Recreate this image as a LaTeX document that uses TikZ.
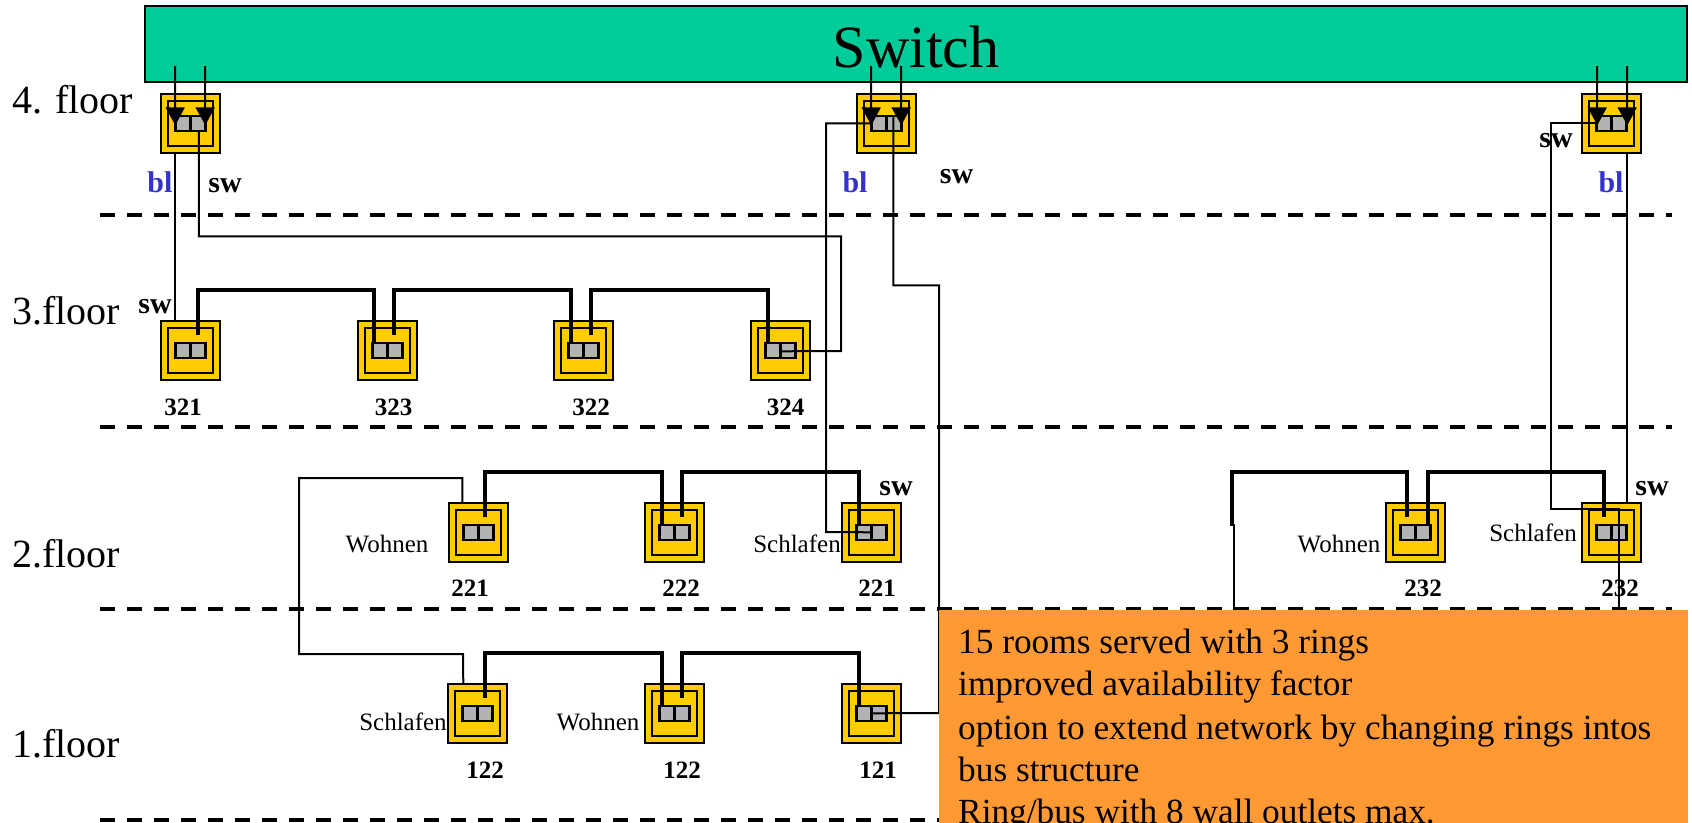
\documentclass[tikz,border=0pt]{standalone}
\usepackage{fontspec}
\setmainfont{Liberation Serif}
\usetikzlibrary{arrows.meta}
\definecolor{swgreen}{HTML}{00CC99}
\definecolor{outletyellow}{HTML}{FFCC00}
\definecolor{portgray}{HTML}{B2B2B2}
\definecolor{noteorange}{HTML}{FF9933}
\definecolor{cableblue}{HTML}{3333CC}
\tikzset{
  outerbox/.style={draw=black,line width=2.2pt,fill=outletyellow,minimum size=59.4pt,inner sep=0pt,outer sep=0pt},
  innerbox/.style={draw=black,line width=2.2pt,fill=outletyellow,minimum size=45pt,inner sep=0pt,outer sep=0pt},
  portcell/.style={draw=black,line width=2.2pt,fill=portgray,minimum width=15pt,minimum height=14.5pt,inner sep=0pt,outer sep=0pt},
  thinwire/.style={draw=black,line width=2pt,miter limit=10},
  ring/.style={draw=black,line width=4pt,miter limit=10},
  floorline/.style={draw=black,line width=4pt,dash pattern=on 15pt off 12pt},
  uplink/.style={draw=black,line width=2pt,-{Triangle[length=18pt,width=19pt]}},
  flr/.style={font=\fontsize{40}{40}\selectfont,anchor=base west,inner sep=0pt},
  tag/.style={font=\fontsize{30}{30}\selectfont\bfseries,anchor=base,inner sep=0pt},
  bluetag/.style={tag,text=cableblue},
  num/.style={font=\fontsize{25}{25}\selectfont\bfseries,anchor=base,inner sep=0pt},
  room/.style={font=\fontsize{25}{25}\selectfont,anchor=base,inner sep=0pt},
  note/.style={font=\fontsize{35.3}{35.3}\selectfont,anchor=base west,inner sep=0pt},
}
\newcommand{\outlet}[3]{%
  \node[outerbox] (#1) at (#2+30.5,#3+30.5) {};
  \node[innerbox] (#1i) at (#1) {};
  \node[portcell] (#1l) at ([shift={(-7.5,0)}]#1) {};
  \node[portcell] (#1r) at ([shift={(7.5,0)}]#1) {};
}
\begin{document}
\begin{tikzpicture}[x=1pt,y=-1pt]
\useasboundingbox (0,0) rectangle (1692,822);
\begin{scope}
\clip (0,0) rectangle (1692,822);
% switch
\node[draw=black,line width=2.2pt,fill=swgreen,minimum width=1542pt,minimum height=76pt,inner sep=0pt,outer sep=0pt,anchor=north west] (switch) at (145,6) {};
\node[font=\fontsize{60}{60}\selectfont,anchor=base,inner sep=0pt] (switchlabel) at (916,67) {Switch};
% floors
\foreach \n/\y in {fa/215,fb/427,fc/609,fd/820}{
  \coordinate (\n w) at (100,\y);
  \coordinate (\n e) at (1672,\y);
  \draw[floorline] (\n w) -- (\n e);
}
\node[flr] (f4) at (12,113) {4. floor};
\node[flr] (f3) at (12,324) {3.floor};
\node[flr] (f2) at (12,567) {2.floor};
\node[flr] (f1) at (12,757) {1.floor};
% outlets
\outlet{a1}{160}{93}
\outlet{a2}{856}{93}
\outlet{a3}{1581}{93}
\outlet{c1}{160}{320}
\outlet{c2}{357}{320}
\outlet{c3}{553}{320}
\outlet{c4}{750}{320}
\outlet{d1}{448}{502}
\outlet{d2}{644}{502}
\outlet{d3}{841}{502}
\outlet{d4}{1385}{502}
\outlet{d5}{1581}{502}
\outlet{e1}{447}{683}
\outlet{e2}{644}{683}
\outlet{e3}{841}{683}
% rings
\draw[ring] ([shift={(37.5,14.5)}]c1.north west) -- ++(0,-45) -| ([shift={(16.5,22.5)}]c2.north west);
\draw[ring] ([shift={(36.5,14.5)}]c2.north west) -- ++(0,-45) -| ([shift={(17.5,22.5)}]c3.north west);
\draw[ring] ([shift={(37.5,14.5)}]c3.north west) -- ++(0,-45) -| ([shift={(17.5,22.5)}]c4.north west);
\draw[ring] ([shift={(36.5,14.5)}]d1.north west) -- ++(0,-45) -| ([shift={(17,22.5)}]d2.north west);
\draw[ring] ([shift={(37.5,14.5)}]d2.north west) -- ++(0,-45) -| ([shift={(17.5,22.5)}]d3.north west);
\draw[ring] ([shift={(21.5,14.5)}]d4.north west) -- ++(0,-45) -- ++(-175,0) coordinate (ringend) -- ++(0,54) coordinate (ringfoot);
\draw[ring] ([shift={(42.5,22.5)}]d4.north west) -- ++(0,-53) -| ([shift={(22.5,14.5)}]d5.north west);
\draw[ring] ([shift={(37.5,14.5)}]e1.north west) -- ++(0,-45) -| ([shift={(17,22.5)}]e2.north west);
\draw[ring] ([shift={(37.5,14.5)}]e2.north west) -- ++(0,-45) -| ([shift={(17.5,22.5)}]e3.north west);
% thin wires
\draw[thinwire] ([shift={(14.5,0)}]a1.south west) -- ([shift={(14.5,0)}]c1.north west);
\draw[thinwire] ([shift={(38,37.5)}]a1.north west) -- ++(0,105) -| (841,351) -- ([shift={(30,30.5)}]c4.north west);
\draw[thinwire] ([shift={(14.5,29.5)}]a2.north west) -| (826,532) -- ([shift={(30,29.5)}]d3.north west);
\draw[thinwire] ([shift={(36.5,22.5)}]a2.north west) -- ++(0,169) -| (939,713) -- ([shift={(30,29.5)}]e3.north west);
\draw[thinwire] ([shift={(15.5,29.5)}]a3.north west) -| (1551,509) -| (1619,620);
\draw[thinwire] ([shift={(45.5,0)}]a3.south west) -- ([shift={(45.5,0)}]d5.north west);
\draw[thinwire] ([shift={(13.5,0)}]d1.north west) |- (299,478) |- (463,654) -- ([shift={(15.5,0)}]e1.north west);
\draw[thinwire] ([shift={(2,-2)}]ringfoot) -- ++(0,96);
% uplinks
\draw[uplink] ([shift={(30,60)}]switch.north west) -- ([shift={(14.5,31.5)}]a1.north west);
\draw[uplink] ([shift={(60,60)}]switch.north west) -- ([shift={(44.5,31.5)}]a1.north west);
\draw[uplink] ([shift={(726,60)}]switch.north west) -- ([shift={(14.5,31.5)}]a2.north west);
\draw[uplink] ([shift={(756,60)}]switch.north west) -- ([shift={(44.5,31.5)}]a2.north west);
\draw[uplink] ([shift={(1452,60)}]switch.north west) -- ([shift={(15.5,31.5)}]a3.north west);
\draw[uplink] ([shift={(1482,60)}]switch.north west) -- ([shift={(45.5,31.5)}]a3.north west);
% note
\node[fill=noteorange,minimum width=749pt,minimum height=214pt,inner sep=0pt,outer sep=0pt,anchor=north west] (notes) at (939,609.5) {};
\node[note] (n1) at (958,653) {15 rooms served with 3 rings};
\node[note] (n2) at (958,695) {improved availability factor};
\node[note] (n3) at (958,739) {option to extend network by changing rings intos};
\node[note] (n4) at (958,781) {bus structure};
\node[note] (n5) at (958,823) {Ring/bus with 8 wall outlets max.};
% tags
\node[bluetag] (t1) at (160,192) {bl};
\node[tag] (t2) at (225,192) {sw};
\node[bluetag] (t3) at (855,192) {bl};
\node[tag] (t4) at (956.5,183) {sw};
\node[tag] (t5) at (1556,147) {sw};
\node[bluetag] (t6) at (1611,192) {bl};
\node[tag] (t7) at (155,313) {sw};
\node[tag] (t8) at (896,495) {sw};
\node[tag] (t9) at (1652,495) {sw};
% numbers
\node[num] (r1) at (183,415) {321};
\node[num] (r2) at (393.5,415) {323};
\node[num] (r3) at (591,415) {322};
\node[num] (r4) at (785.5,415) {324};
\node[num] (r5) at (470,596) {221};
\node[num] (r6) at (681,596) {222};
\node[num] (r7) at (877,596) {221};
\node[num] (r8) at (1423,596) {232};
\node[num] (r9) at (1620,596) {232};
\node[num] (r10) at (485,778) {122};
\node[num] (r11) at (682,778) {122};
\node[num] (r12) at (878,778) {121};
% rooms
\node[room] (w1) at (387,552) {Wohnen};
\node[room] (s1) at (797,552) {Schlafen};
\node[room] (w2) at (1339,552) {Wohnen};
\node[room] (s2) at (1533,541) {Schlafen};
\node[room] (s3) at (403,730) {Schlafen};
\node[room] (w3) at (598,730) {Wohnen};
\end{scope}
\end{tikzpicture}
\end{document}
